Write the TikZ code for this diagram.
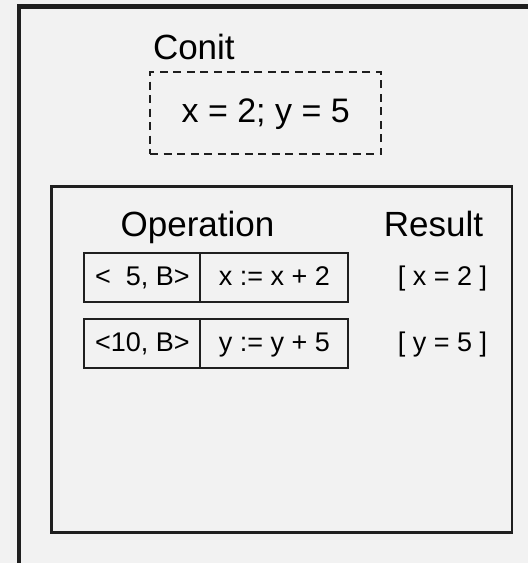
\documentclass[tikz,border=0pt]{standalone}
\usepackage{fontspec}
\setmainfont{Liberation Sans}
\usetikzlibrary{positioning}

\begin{document}
\begin{tikzpicture}[x=1pt,y=-1pt,
    every node/.style={inner sep=0pt,outer sep=0pt},
    frame/.style={draw=black!88,line width=4.5pt},
    panel/.style={draw=black!88,line width=2.8pt},
    conitbox/.style={draw=black!88,line width=2.2pt,dash pattern=on 8pt off 5.5pt,
        minimum width=231pt,minimum height=82pt,
        font=\fontsize{34}{40}\selectfont,text height=18.6pt,text depth=0pt},
    heading/.style={font=\fontsize{35}{40}\selectfont,anchor=base},
    cell/.style={draw=black!88,line width=2.3pt,minimum height=49.5pt,
        font=\fontsize{27}{32}\selectfont,text height=16.4pt,text depth=0pt},
    entry/.style={font=\fontsize{27}{32}\selectfont,anchor=base},
]
% Background and outer frame
\fill[black!5] (0,0) rectangle (528,563);
\useasboundingbox (0,0) rectangle (528,563);
\draw[frame] (19,563) -- (19,6.5) -- (528,6.5);
% Conit state
\node[conitbox] (state) at (265.7,113) {x = 2; y = 5};
\node[heading,anchor=base west] (conit) at (153,59) {Conit};
% Operation panel
\draw[panel] (51.5,186.5) rectangle (512,532.5);
\node[heading] (operation) at (197.5,236.7) {Operation};
\node[heading] (result) at (433.5,236.7) {Result};
% Rows: (index, y_center, key, operation, result)
\foreach \i/\yc/\key/\op/\res in {
    1/277.5/{<\phantom{1}5, B>}/{x := x + 2}/{[ x = 2 ]},
    2/343.5/{<10, B>}/{y := y + 5}/{[ y = 5 ]}
} {
    \node[cell,minimum width=116pt] (key\i) at (142.3,\yc) {\key};
    \node[cell,minimum width=148pt,right=0pt of key\i] (op\i) {\op};
    \node[entry] (res\i) at (442.5,\yc+8.2) {\res};
}
\end{tikzpicture}
\end{document}
